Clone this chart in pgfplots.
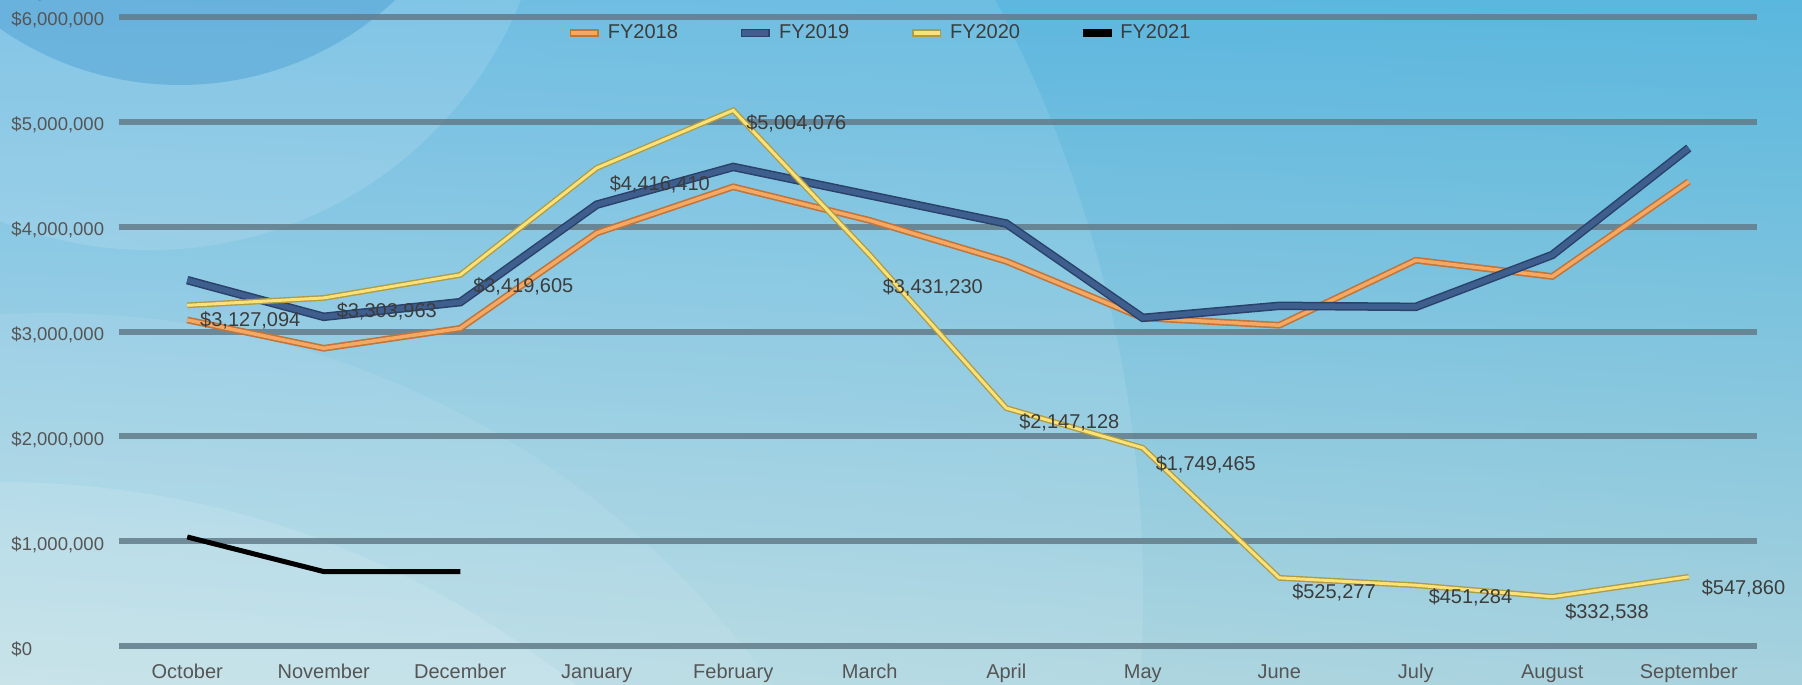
\documentclass[border=0pt]{standalone}
\usepackage{fontspec}
\setmainfont{Liberation Sans}
\usepackage{pgfplots}
\pgfplotsset{compat=1.18}
\usetikzlibrary{shadings}

\definecolor{gridgray}{RGB}{98,124,138}
\definecolor{orcore}{RGB}{244,168,98}
\definecolor{oredge}{RGB}{190,118,62}
\definecolor{blcore}{RGB}{62,94,142}
\definecolor{bledge}{RGB}{42,66,106}
\definecolor{ylcore}{RGB}{250,226,120}
\definecolor{yledge}{RGB}{175,155,70}
\definecolor{labgray}{RGB}{60,60,60}
\definecolor{tickgray}{RGB}{85,85,85}
\definecolor{bgdark}{RGB}{55,145,205}

% monthly values
\pgfplotstableread{
x FY2018  FY2019  FY2020
0  3110000 3490000 3250000
1  2840000 3140000 3320000
2  3030000 3280000 3540000
3  3940000 4210000 4560000
4  4380000 4570000 5110000
5  4060000 4300000 3730000
6  3670000 4030000 2270000
7  3130000 3130000 1890000
8  3060000 3245000 650000
9  3680000 3235000 580000
10 3525000 3730000 470000
11 4430000 4750000 660000
}\sales

\newcommand{\lfont}{\fontsize{8}{9.6}\selectfont}

\begin{document}
\begin{tikzpicture}
\useasboundingbox (-47.6pt,-15.2pt) rectangle (673.2pt,258.4pt);

% background panel
\begin{scope}
\clip (-47.6pt,-15.2pt) rectangle (673.2pt,258.4pt);
\shade[upper left={rgb,255:red,98;green,182;blue,224},
       upper right={rgb,255:red,90;green,183;blue,222},
       lower left={rgb,255:red,182;green,219;blue,226},
       lower right={rgb,255:red,168;green,210;blue,222}]
  (-47.6pt,-15.2pt) rectangle (673.2pt,258.4pt);
\fill[white, opacity=0.10] (-100pt,20pt) circle (509.6pt);
\fill[white, opacity=0.12] (12.4pt,318.4pt) circle (160pt);
\fill[bgdark, opacity=0.35] (24.4pt,350.4pt) circle (126pt);
\fill[white, opacity=0.08] (-27.6pt,-221.6pt) circle (354.8pt);
\fill[white, opacity=0.12] (-47.6pt,-301.6pt) circle (367.2pt);
\end{scope}

\begin{axis}[
  at={(0pt,0pt)}, anchor=south west,
  scale only axis, width=655.2pt, height=251.6pt,
  xmin=-0.5, xmax=11.5, ymin=0, ymax=6000000,
  xtick={0,...,11},
  xticklabels={October,November,December,January,February,March,April,May,June,July,August,September},
  ytick={0,1000000,2000000,3000000,4000000,5000000,6000000},
  yticklabels={{\$0},{\$1,000,000},{\$2,000,000},{\$3,000,000},{\$4,000,000},{\$5,000,000},{\$6,000,000}},
  axis line style={draw=none},
  major tick length=0pt,
  ymajorgrids,
  grid style={gridgray, line width=2.4pt, opacity=0.85},
  xticklabel style={anchor=base, inner sep=0pt, yshift=-12.8pt, font=\lfont, text=tickgray},
  yticklabel style={anchor=west, inner sep=0pt, xshift=-43.2pt, yshift=-1.3pt, font=\fontsize{7.4}{9}\selectfont, text=tickgray},
  legend columns=4,
  legend style={draw=none, fill=none, at={(0.465,0.9746)}, anchor=center,
    font=\lfont, text=labgray,
    /tikz/every even column/.append style={column sep=21.5pt}},
  clip=false,
]

\addplot[oredge, line width=2.7pt, forget plot] table[x=x, y=FY2018] {\sales};
\addplot[orcore, line width=1.4pt,
  legend image code/.code={\draw[oredge, line width=3.2pt] (0pt,0pt) -- (11.6pt,0pt);
    \draw[orcore, line width=1.8pt] (0.6pt,0pt) -- (11pt,0pt);}]
  table[x=x, y=FY2018] {\sales};
\addlegendentry{FY2018}

\addplot[bledge, line width=3.4pt, forget plot] table[x=x, y=FY2019] {\sales};
\addplot[blcore, line width=2.2pt,
  legend image code/.code={\draw[bledge, line width=3.4pt] (0pt,0pt) -- (11.6pt,0pt);
    \draw[blcore, line width=2.2pt] (0.6pt,0pt) -- (11pt,0pt);}]
  table[x=x, y=FY2019] {\sales};
\addlegendentry{FY2019}

\addplot[yledge, line width=2.3pt, forget plot] table[x=x, y=FY2020] {\sales};
\addplot[ylcore, line width=1.2pt,
  legend image code/.code={\draw[yledge, line width=3.2pt] (0pt,0pt) -- (11.6pt,0pt);
    \draw[ylcore, line width=1.8pt] (0.6pt,0pt) -- (11pt,0pt);}]
  table[x=x, y=FY2020] {\sales};
\addlegendentry{FY2020}

\addplot[black, line width=2.0pt,
  legend image code/.code={\draw[black, line width=3pt] (0pt,0pt) -- (11.6pt,0pt);}]
  coordinates {(0,1040000) (1,710000) (2,710000)};
\addlegendentry{FY2021}

% FY2020 data labels
\begin{scope}[every node/.style={anchor=west, inner sep=0pt, xshift=5pt, font=\lfont, text=labgray}]
\node at (axis cs:0,3110000) {\$3,127,094};
\node at (axis cs:1,3190000) {\$3,303,963};
\node at (axis cs:2,3430000) {\$3,419,605};
\node at (axis cs:3,4400000) {\$4,416,410};
\node at (axis cs:4,4990000) {\$5,004,076};
\node at (axis cs:5,3420000) {\$3,431,230};
\node at (axis cs:6,2130000) {\$2,147,128};
\node at (axis cs:7,1730000) {\$1,749,465};
\node at (axis cs:8,510000) {\$525,277};
\node at (axis cs:9,460000) {\$451,284};
\node at (axis cs:10,320000) {\$332,538};
\node at (axis cs:11,550000) {\$547,860};
\end{scope}
\end{axis}
\end{tikzpicture}
\end{document}
